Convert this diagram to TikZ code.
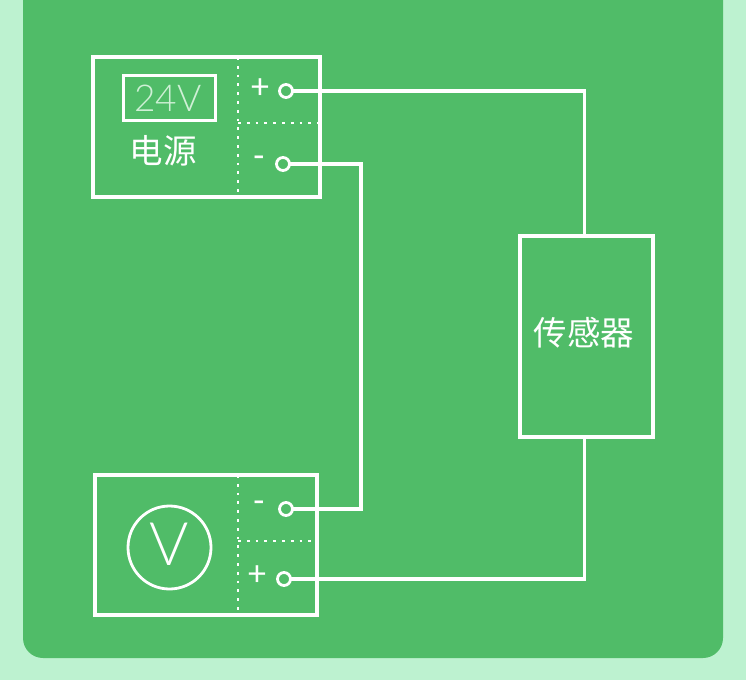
\documentclass[tikz,border=0pt]{standalone}
\usepackage{fontspec}
\newfontfamily\cjk{Noto Sans CJK SC}
\newfontfamily\latin{Carlito}
\newfontfamily\latinthin{Lato Light}
\definecolor{pagebg}{HTML}{BDF2D0}
\definecolor{panel}{HTML}{50BC68}
\definecolor{dim}{HTML}{CFF0D6}
\begin{document}
\begin{tikzpicture}[x=1pt,y=-1pt,
  every node/.style={inner sep=0pt,outer sep=0pt},
  box/.style={draw=white,line width=3.2pt,minimum width=#1},
  wire/.style={draw=white,line width=3.2pt},
  thin box/.style={draw=white,line width=3pt},
  dots/.style={draw=white,line width=2.8pt,dash pattern=on 2.8pt off 6pt},
  terminal/.style={circle,draw=white,line width=2.8pt,minimum size=13pt},
  sign/.style={text=white,font=\latin\fontsize{36}{36}\selectfont},
  label/.style={text=white,font=\cjk\fontsize{33.5}{33.5}\selectfont}]
\useasboundingbox (0,0) rectangle (746,680);
\fill[pagebg] (0,0) rectangle (746,680);
\begin{scope}
\clip (0,0) rectangle (746,680);
\fill[panel,rounded corners=20pt] (23,-40) rectangle (723,658);
\end{scope}
% boxes
\node[box=227pt,minimum height=140pt] (psu) at (206.5,127) {};
\node[box=222pt,minimum height=140pt] (vm) at (206,545) {};
\node[box=133pt,minimum height=201pt] (sensor) at (586.5,336.5) {};
\node[label] (sensorlabel) at (584,333) {传感器};
% power supply
\node[thin box,minimum width=92pt,minimum height=45pt] (display) at (169,97.5) {};
\node[text=dim,font=\latinthin\fontsize{37}{37}\selectfont] (v24) at (168,98) {24V};
\node[label] (psulabel) at (163,151) {电源};
\coordinate (pt) at (238,57); \coordinate (pb) at (238,197);
\coordinate (pl) at (238,123); \coordinate (pr) at (320,123);
\draw[dots] (pt) -- (pb);
\draw[dots] (pl) -- (pr);
\node[sign] (pplus) at (260,89) {+};
\node[sign] (pminus) at (259,162) {-};
\node[terminal] (pa) at (286,91) {};
\node[terminal] (pc) at (283,164) {};
% voltmeter
\node[circle,draw=white,line width=2.8pt,minimum size=83pt] (dial) at (169.5,547.5) {};
\node[text=white,font=\latinthin\fontsize{60}{60}\selectfont] (vv) at (169.5,544) {V};
\coordinate (vt) at (238,475); \coordinate (vb) at (238,615);
\coordinate (vl) at (238,541); \coordinate (vr) at (317,541);
\draw[dots] (vt) -- (vb);
\draw[dots] (vl) -- (vr);
\node[sign] (vminus) at (259,507) {-};
\node[sign] (vplus) at (257,576) {+};
\node[terminal] (vc) at (286,509) {};
\node[terminal] (va) at (284,579) {};
% wires
\draw[wire] (pa.east) -- ++(299-7,0) coordinate (c1) -- (c1 |- sensor.north);
\draw[wire] (va.east) -- ++(301-7,0) coordinate (c2) -- (c2 |- sensor.south);
\coordinate (k1) at (361,164); \coordinate (k2) at (361,509);
\draw[wire] (pc.east) -- (k1) -- (k2) -- (vc.east);
\end{tikzpicture}
\end{document}
